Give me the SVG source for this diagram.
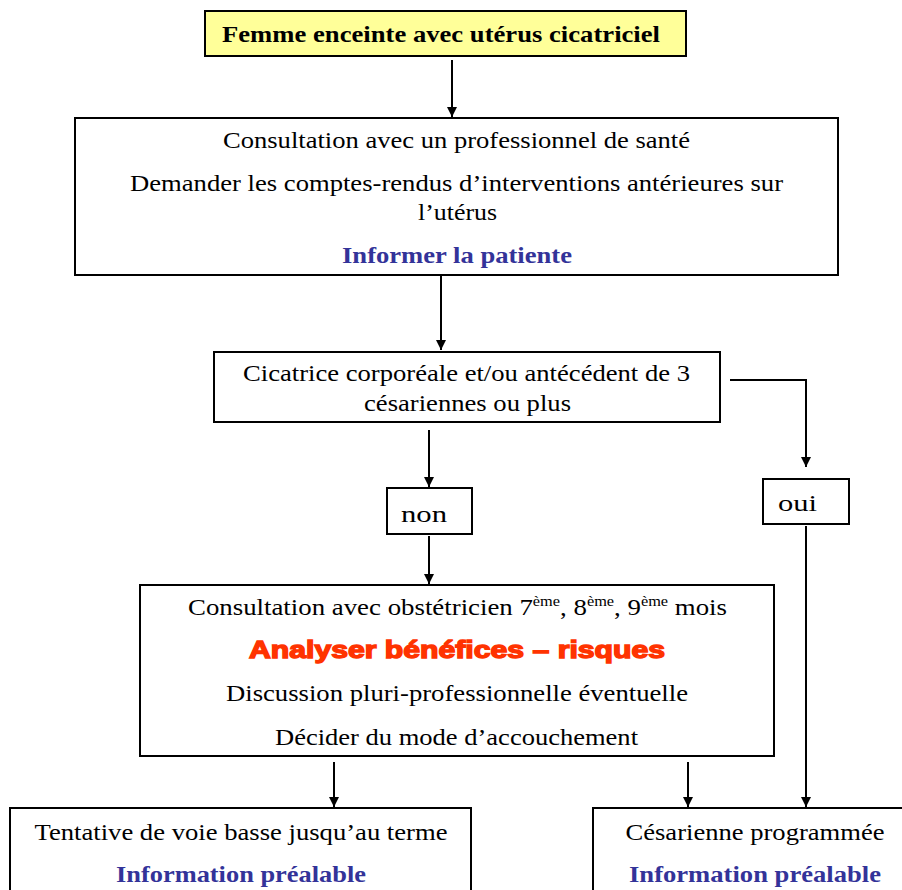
<svg xmlns="http://www.w3.org/2000/svg" width="902" height="890" viewBox="0 0 902 890">
<style>
.box{fill:#fff;stroke:#000;stroke-width:2}
.t{font-family:'Liberation Serif','DejaVu Serif',serif;font-size:23px;fill:#000;text-anchor:middle}
.b{font-weight:bold}
.blue{fill:#333399;font-weight:bold}
.red{font-family:'Liberation Sans',Arial,sans-serif;font-weight:900;font-size:24px;fill:#FF3300;stroke:#FF3300;stroke-width:1.4;text-anchor:middle}
.sup{font-size:14px}
.c{fill:none;stroke:#000;stroke-width:2}
</style>
<defs>
<marker id="ah" viewBox="0 0 10 10" refX="10" refY="5" markerWidth="5" markerHeight="5" orient="auto" markerUnits="strokeWidth">
<path d="M0,0 L10,5 L0,10 z" fill="#000"/>
</marker>
</defs>
<rect width="902" height="890" fill="#fff"/>
<g id="connectors">
<path class="c" d="M452,60 V117" marker-end="url(#ah)"/>
<path class="c" d="M441,276 V350" marker-end="url(#ah)"/>
<path class="c" d="M730,380 H806 V467" marker-end="url(#ah)"/>
<path class="c" d="M429,430 V487" marker-end="url(#ah)"/>
<path class="c" d="M429,536 V584" marker-end="url(#ah)"/>
<path class="c" d="M806,526 V807" marker-end="url(#ah)"/>
<path class="c" d="M334,762 V807" marker-end="url(#ah)"/>
<path class="c" d="M688,762 V807" marker-end="url(#ah)"/>
</g>
<g id="n1">
<rect x="205" y="11" width="481" height="45" fill="#FFFF99" stroke="#000" stroke-width="2"/>
<text class="t b" x="441" y="42" textLength="438" lengthAdjust="spacingAndGlyphs">Femme enceinte avec utérus cicatriciel</text>
</g>
<g id="n2">
<rect class="box" x="75" y="118" width="763" height="157"/>
<text class="t" x="456.5" y="148" textLength="467" lengthAdjust="spacingAndGlyphs">Consultation avec un professionnel de santé</text>
<text class="t" x="456.5" y="191" textLength="653" lengthAdjust="spacingAndGlyphs">Demander les comptes-rendus d’interventions antérieures sur</text>
<text class="t" x="457.5" y="220" textLength="79" lengthAdjust="spacingAndGlyphs">l’utérus</text>
<text class="t blue" x="457" y="263" textLength="230" lengthAdjust="spacingAndGlyphs">Informer la patiente</text>
</g>
<g id="n3">
<rect class="box" x="214" y="352" width="506" height="70"/>
<text class="t" x="466.5" y="381" textLength="447" lengthAdjust="spacingAndGlyphs">Cicatrice corporéale et/ou antécédent de 3</text>
<text class="t" x="467.5" y="411" textLength="207" lengthAdjust="spacingAndGlyphs">césariennes ou plus</text>
</g>
<g id="n4">
<rect class="box" x="387" y="488" width="85" height="46"/>
<text class="t" x="424" y="522" textLength="46" lengthAdjust="spacingAndGlyphs">non</text>
</g>
<g id="n5">
<rect class="box" x="763" y="479" width="86" height="45"/>
<text class="t" x="797.5" y="511" textLength="39" lengthAdjust="spacingAndGlyphs">oui</text>
</g>
<g id="n6">
<rect class="box" x="140" y="585" width="634" height="171"/>
<text class="t" x="457.5" y="615" textLength="539" lengthAdjust="spacingAndGlyphs">Consultation avec obstétricien 7<tspan class="sup" dy="-9">ème</tspan><tspan dy="9">, 8</tspan><tspan class="sup" dy="-9">ème</tspan><tspan dy="9">, 9</tspan><tspan class="sup" dy="-9">ème</tspan><tspan dy="9"> mois</tspan></text>
<text class="red" x="457" y="658" textLength="416" lengthAdjust="spacingAndGlyphs">Analyser bénéfices – risques</text>
<text class="t" x="457" y="701" textLength="462" lengthAdjust="spacingAndGlyphs">Discussion pluri-professionnelle éventuelle</text>
<text class="t" x="456.5" y="745" textLength="363" lengthAdjust="spacingAndGlyphs">Décider du mode d’accouchement</text>
</g>
<g id="n7">
<rect class="box" x="10" y="808" width="461" height="90"/>
<text class="t" x="241" y="840" textLength="413" lengthAdjust="spacingAndGlyphs">Tentative de voie basse jusqu’au terme</text>
<text class="t blue" x="241" y="882" textLength="250" lengthAdjust="spacingAndGlyphs">Information préalable</text>
</g>
<g id="n8">
<rect class="box" x="593" y="808" width="320" height="90"/>
<text class="t" x="755" y="840" textLength="259" lengthAdjust="spacingAndGlyphs">Césarienne programmée</text>
<text class="t blue" x="755" y="882" textLength="252" lengthAdjust="spacingAndGlyphs">Information préalable</text>
</g>
</svg>
